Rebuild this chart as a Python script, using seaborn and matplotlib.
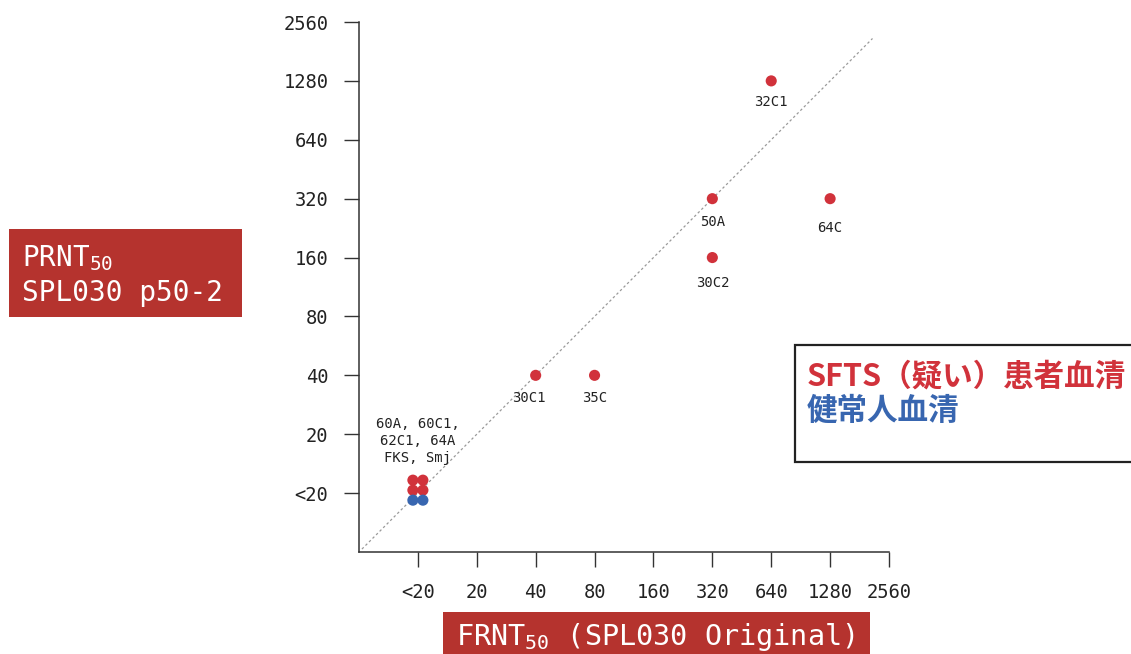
import numpy as np
import pandas as pd
import matplotlib
matplotlib.use("Agg")
import matplotlib.pyplot as plt
import seaborn as sns
from matplotlib.patches import Rectangle

# ---------------- data ----------------
tick_labels = ["<20", "20", "40", "80", "160", "320", "640", "1280", "2560"]

sample_names = ["32C1", "64C", "50A", "30C2", "30C1", "35C"]
sample_frnt = ["640", "1280", "320", "320", "40", "80"]
sample_prnt = ["1280", "320", "320", "160", "40", "40"]
sample_group = ["SFTS", "SFTS", "SFTS", "SFTS", "SFTS", "SFTS"]

cluster_names = ["60A", "60C1", "62C1", "64A", "FKS", "Smj"]
cluster_frnt = ["<20", "<20", "<20", "<20", "<20", "<20"]
cluster_prnt = ["<20", "<20", "<20", "<20", "<20", "<20"]
cluster_group = ["SFTS", "SFTS", "SFTS", "SFTS", "Healthy", "Healthy"]

legend_texts = ["SFTS（疑い）患者血清", "健常人血清"]
ylabel_lines = ["PRNT$_{50}$", "SPL030 p50-2"]
xlabel_text = "FRNT$_{50}$ (SPL030 Original)"
cluster_label = "60A, 60C1,\n62C1, 64A\nFKS, Smj"

RED = "#d1323b"
BLUE = "#3866b0"
BOX_RED = "#b5332e"
palette = {"SFTS": RED, "Healthy": BLUE}

# label placement (layout only): offsets in points below each point
label_dx = {"30C1": -5}
label_dy = {"32C1": -15, "64C": -21, "50A": -16.5, "30C2": -18.5, "30C1": -16, "35C": -16}

# ---------------- build frame ----------------
rows = []
for n, fxv, pyv, g in zip(sample_names, sample_frnt, sample_prnt, sample_group):
    rows.append(dict(name=n, x=tick_labels.index(fxv), y=tick_labels.index(pyv), group=g))
# overlapping "<20" samples are spread in a small grid so each is visible
k_s = 0
k_h = 0
for n, fxv, pyv, g in zip(cluster_names, cluster_frnt, cluster_prnt, cluster_group):
    if g == "SFTS":
        col, row = k_s % 2, k_s // 2
        k_s += 1
    else:
        col, row = k_h % 2, 2
        k_h += 1
    rows.append(dict(name=n,
                     x=tick_labels.index(fxv) + (col - 0.5) * 0.17,
                     y=tick_labels.index(pyv) + 0.22 - row * 0.17,
                     group=g))
df = pd.DataFrame(rows)

# ---------------- figure ----------------
sns.set_style("ticks")
plt.rcParams["font.family"] = ["DejaVu Sans Mono"]
plt.rcParams["mathtext.fontset"] = "custom"
plt.rcParams["mathtext.rm"] = "DejaVu Sans Mono"
plt.rcParams["mathtext.it"] = "DejaVu Sans Mono"
plt.rcParams["mathtext.bf"] = "DejaVu Sans Mono:bold"
plt.rcParams["mathtext.default"] = "rm"

W, H = 1131, 654
fig = plt.figure(figsize=(W / 100, H / 100), dpi=100)
fig.patch.set_facecolor("white")


def fx(px):
    return px / W


def fy(py):
    return 1 - py / H


ax = fig.add_axes([fx(359), fy(552), (889 - 359) / W, (552 - 22) / H])
ax.set_facecolor("white")

sns.scatterplot(data=df, x="x", y="y", hue="group", palette=palette,
                s=64, linewidth=0, legend=False, ax=ax, zorder=3)

# y = x reference line
ax.plot([-0.95, 7.72], [-0.95, 7.72], ls=(0, (2, 2)), color="#9a9a9a", lw=0.9, zorder=1)

ax.set_xlim(-1, 8)
ax.set_ylim(-1, 8)
ax.set_xticks(range(len(tick_labels)))
ax.set_xticklabels(tick_labels)
ax.set_yticks(range(len(tick_labels)))
ax.set_yticklabels(tick_labels)
ax.set_xlabel("")
ax.set_ylabel("")
for s in ["top", "right"]:
    ax.spines[s].set_visible(False)
for s in ["left", "bottom"]:
    ax.spines[s].set_color("#333333")
    ax.spines[s].set_linewidth(1.1)
ax.tick_params(axis="both", which="major", bottom=True, left=True,
               direction="out", length=11, width=1.0, color="#333333",
               labelsize=13.5, labelcolor="#222222", pad=11)

# point labels
sub = df[df["name"].isin(sample_names)]
for _, r in sub.iterrows():
    ax.annotate(r["name"], (r["x"], r["y"]),
                xytext=(label_dx.get(r["name"], 0), label_dy.get(r["name"], -16)),
                textcoords="offset points", ha="center", va="center",
                fontsize=10, color="#222222")

ax.annotate(cluster_label, (0, 0), xytext=(0, 37.5), textcoords="offset points",
            ha="center", va="center", fontsize=10, color="#222222",
            linespacing=1.3, multialignment="center")

# y-label box
fig.patches.append(Rectangle((fx(9), fy(317)), (242 - 9) / W, (317 - 229) / H,
                             transform=fig.transFigure, facecolor=BOX_RED,
                             edgecolor="none", zorder=0))
fig.text(fx(22), fy(258), ylabel_lines[0], color="white", fontsize=20,
         ha="left", va="center")
fig.text(fx(22), fy(293), ylabel_lines[1], color="white", fontsize=20,
         ha="left", va="center")

# x-label box
fig.patches.append(Rectangle((fx(443), fy(665)), (870 - 443) / W, (665 - 612) / H,
                             transform=fig.transFigure, facecolor=BOX_RED,
                             edgecolor="none", zorder=0))
fig.text(fx(655), fy(637), xlabel_text, color="white", fontsize=20.5,
         ha="center", va="center")

# legend box
fig.patches.append(Rectangle((fx(795), fy(462)), (1145 - 795) / W, (462 - 345) / H,
                             transform=fig.transFigure, facecolor="white",
                             edgecolor="#222222", linewidth=1.6, zorder=0))
cjk = ["Noto Sans CJK JP", "DejaVu Sans"]
fig.text(fx(807), fy(377), legend_texts[0], color=RED, fontsize=22,
         fontweight="bold", family=cjk, ha="left", va="center")
fig.text(fx(807), fy(411), legend_texts[1], color=BLUE, fontsize=22,
         fontweight="bold", family=cjk, ha="left", va="center")

fig.savefig("out.png", dpi=100)
